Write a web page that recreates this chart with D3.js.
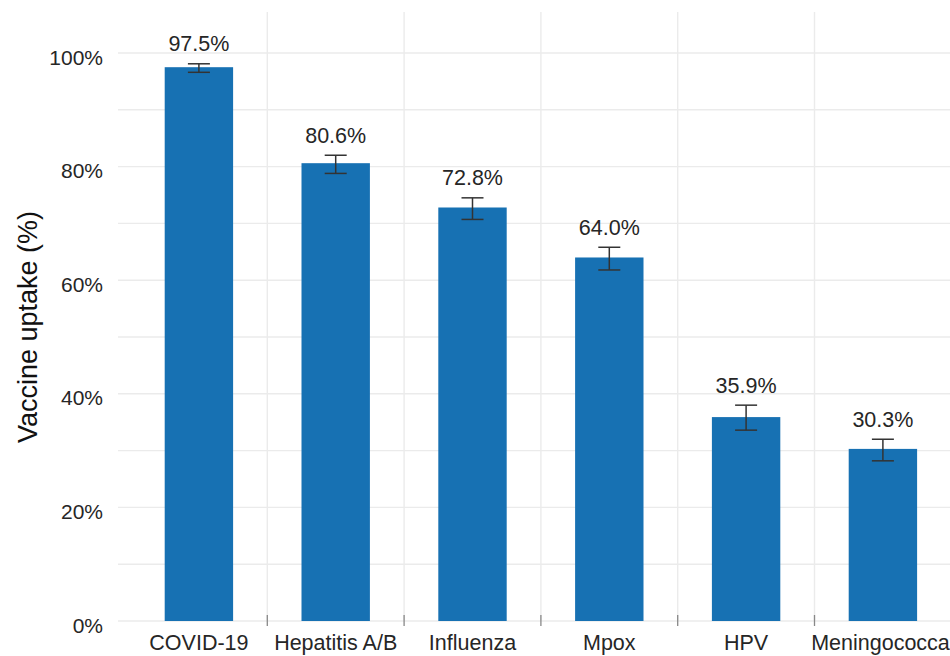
<!DOCTYPE html>
<html>
<head>
<meta charset="utf-8">
<script src="https://cdn.jsdelivr.net/npm/d3@7"></script>
<style>
  html, body { margin: 0; padding: 0; background: #fff; }
  svg { display: block; font-family: "Liberation Sans", Arial, sans-serif; }
</style>
</head>
<body>
<svg id="chart" width="950" height="656"></svg>
<script>
// Vaccine uptake by vaccine type, with 95% confidence intervals
const categories = ["COVID-19", "Hepatitis A/B", "Influenza", "Mpox", "HPV", "Meningococcal"];
const uptake = [97.5, 80.6, 72.8, 64.0, 35.9, 30.3];
const ciLower = [96.6, 78.8, 70.7, 61.8, 33.6, 28.2];
const ciUpper = [98.1, 82.0, 74.5, 65.8, 38.0, 32.0];
const yTicks = [0, 20, 40, 60, 80, 100];
const yGrid = [0, 10, 20, 30, 40, 50, 60, 70, 80, 90, 100];

const svg = d3.select("#chart");
const W = 950, H = 656;

const panel = { left: 118, right: 950, top: 12, bottom: 621 };

const x = d3.scaleBand()
  .domain(categories)
  .range([130.5, 130.5 + 6 * 136.8])
  .paddingInner(0.5)
  .paddingOuter(0.25);

const y = d3.scaleLinear().domain([0, 100]).range([621, 53]);

const fmt = d => d.toFixed(1) + "%";
const textColor = "#262626";

// horizontal grid
svg.append("g")
  .selectAll("line")
  .data(yGrid)
  .join("line")
  .attr("x1", panel.left)
  .attr("x2", panel.right)
  .attr("y1", d => y(d))
  .attr("y2", d => y(d))
  .attr("stroke", "#ebebeb")
  .attr("stroke-width", 1.4);

// vertical separators between categories
const step = x.step();
const seps = categories.slice(1).map(c => x(c) - step * 0.25);
svg.append("g")
  .selectAll("line")
  .data(seps)
  .join("line")
  .attr("x1", d => d)
  .attr("x2", d => d)
  .attr("y1", panel.top)
  .attr("y2", panel.bottom)
  .attr("stroke", "#ebebeb")
  .attr("stroke-width", 1.4);

// small ticks at separators on the baseline
svg.append("g")
  .selectAll("line")
  .data(seps)
  .join("line")
  .attr("x1", d => d)
  .attr("x2", d => d)
  .attr("y1", 615)
  .attr("y2", 626)
  .attr("stroke", "#888")
  .attr("stroke-width", 1.3);

// bars
const rows = categories.map((c, i) => ({ c, v: uptake[i], lo: ciLower[i], hi: ciUpper[i] }));

svg.append("g")
  .selectAll("rect")
  .data(rows)
  .join("rect")
  .attr("x", d => x(d.c))
  .attr("width", x.bandwidth())
  .attr("y", d => y(d.v))
  .attr("height", d => y(0) - y(d.v))
  .attr("fill", "#1771b3");

// error bars
const capW = 22;
const eb = svg.append("g")
  .attr("stroke", "#333")
  .attr("stroke-width", 1.5)
  .attr("fill", "none");
rows.forEach(d => {
  const cx = x(d.c) + x.bandwidth() / 2;
  eb.append("line").attr("x1", cx).attr("x2", cx).attr("y1", y(d.hi)).attr("y2", y(d.lo));
  eb.append("line").attr("x1", cx - capW / 2).attr("x2", cx + capW / 2).attr("y1", y(d.hi)).attr("y2", y(d.hi));
  eb.append("line").attr("x1", cx - capW / 2).attr("x2", cx + capW / 2).attr("y1", y(d.lo)).attr("y2", y(d.lo));
});

// value labels above error bars
svg.append("g")
  .selectAll("text")
  .data(rows)
  .join("text")
  .attr("x", d => x(d.c) + x.bandwidth() / 2)
  .attr("y", d => y(d.hi) - 12.5)
  .attr("text-anchor", "middle")
  .attr("font-size", "21.5px")
  .attr("fill", textColor)
  .text(d => fmt(d.v));

// y axis tick labels
svg.append("g")
  .selectAll("text")
  .data(yTicks)
  .join("text")
  .attr("x", 103)
  .attr("y", d => y(d) + 11.5)
  .attr("text-anchor", "end")
  .attr("font-size", "21px")
  .attr("fill", textColor)
  .text(d => d + "%");

// x axis category labels
svg.append("g")
  .selectAll("text")
  .data(categories)
  .join("text")
  .attr("x", d => x(d) + x.bandwidth() / 2)
  .attr("y", 650)
  .attr("text-anchor", "middle")
  .attr("font-size", "21.5px")
  .attr("fill", textColor)
  .text(d => d);

// y axis title
svg.append("text")
  .attr("transform", "translate(37,327) rotate(-90)")
  .attr("text-anchor", "middle")
  .attr("font-size", "27px")
  .attr("fill", "#111")
  .text("Vaccine uptake (%)");
</script>
</body>
</html>
